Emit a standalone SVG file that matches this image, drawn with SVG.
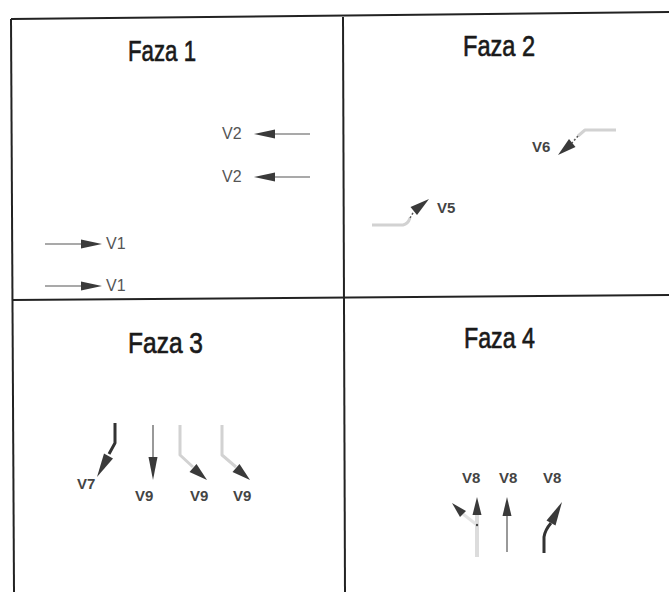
<svg xmlns="http://www.w3.org/2000/svg" width="669" height="592" viewBox="0 0 669 592">
<style>
.frame{stroke:#222;stroke-width:2;fill:none}
.title{font-family:"Liberation Sans",Arial,sans-serif;font-size:30px;fill:#1a1a1a;stroke:#1a1a1a;stroke-width:0.7}
.lbl{font-family:"Liberation Sans",Arial,sans-serif;font-size:16px;fill:#555}
.lblb{font-family:"Liberation Sans",Arial,sans-serif;font-size:15px;font-weight:bold;fill:#444}
.thin{stroke:#555;stroke-width:1.2;fill:none}
.thick{stroke:#333;stroke-width:3;fill:none;stroke-linejoin:round}
.light{stroke:#d2d2d2;stroke-width:3;fill:none;stroke-linejoin:round}
.head{fill:#3a3a3a}
</style>
<rect width="669" height="592" fill="#fff"/>
<g id="frame">
<line class="frame" x1="11" y1="19" x2="669" y2="12"/>
<line class="frame" x1="11" y1="19" x2="14" y2="592"/>
<line class="frame" x1="343" y1="17" x2="345" y2="592"/>
<line class="frame" x1="12" y1="300" x2="669" y2="295"/>
</g>
<g id="faza1">
<text class="title" x="128" y="61" textLength="68" lengthAdjust="spacingAndGlyphs">Faza 1</text>
<g id="v2a"><text class="lbl" x="222" y="139">V2</text></g>
<g id="v2b"><text class="lbl" x="222" y="182">V2</text></g>
<g id="v1a"><text class="lbl" x="106" y="249">V1</text></g>
<g id="v1b"><text class="lbl" x="106" y="291">V1</text></g>
</g>
<g id="faza2">
<text class="title" x="463" y="56" textLength="72" lengthAdjust="spacingAndGlyphs">Faza 2</text>
<g id="v6"><text class="lblb" x="532" y="152">V6</text></g>
<g id="v5"><text class="lblb" x="437" y="213">V5</text></g>
</g>
<g id="faza3">
<text class="title" x="128" y="353" textLength="75" lengthAdjust="spacingAndGlyphs">Faza 3</text>
<g id="v7"><text class="lblb" x="77" y="489">V7</text></g>
<g id="v9a"><text class="lblb" x="135" y="501">V9</text></g>
<g id="v9b"><text class="lblb" x="190" y="501">V9</text></g>
<g id="v9c"><text class="lblb" x="233" y="501">V9</text></g>
</g>
<g id="faza4">
<text class="title" x="464" y="348" textLength="71" lengthAdjust="spacingAndGlyphs">Faza 4</text>
<g id="v8a"><text class="lblb" x="462" y="483">V8</text></g>
<g id="v8b"><text class="lblb" x="499" y="483">V8</text></g>
<g id="v8c"><text class="lblb" x="543" y="483">V8</text></g>
</g>
<g id="connectors">
<line class="thin" x1="274" y1="134" x2="310" y2="134"/>
<polygon class="head" points="254,134 275,129.5 275,138.5"/>
<line class="thin" x1="274" y1="177" x2="310" y2="177"/>
<polygon class="head" points="254,177 275,172.5 275,181.5"/>
<line class="thin" x1="45" y1="244" x2="83" y2="244"/>
<polygon class="head" points="102,244 81,239.5 81,248.5"/>
<line class="thin" x1="45" y1="286" x2="83" y2="286"/>
<polygon class="head" points="102,286 81,281.5 81,290.5"/>
<polyline class="light" points="616,130 585,130 578,136"/>
<line stroke="#555" stroke-width="1.5" stroke-dasharray="2,2" x1="578" y1="136" x2="572" y2="143"/>
<polygon class="head" points="558,155 575.5,147 569,139"/>
<path class="light" d="M372,225 L403,225 Q408,224 410,218"/>
<line stroke="#555" stroke-width="1.5" stroke-dasharray="2,2" x1="410" y1="218" x2="414" y2="211"/>
<polygon class="head" points="429,199 417,215 410.5,207"/>
<polyline class="thick" points="115,423 115,443 109,454"/>
<polygon class="head" points="97,477 113,458.5 104,453.5"/>
<line class="thin" x1="153" y1="425" x2="153" y2="458"/>
<polygon class="head" points="153,480 148.5,457 157.5,457"/>
<polyline class="light" points="180,425 180,455 193,467"/>
<polygon class="head" points="207,480 189.5,472 196.5,464"/>
<polyline class="light" points="222,425 222,455 236,467"/>
<polygon class="head" points="250,480 232.5,472 239.5,464"/>
<line stroke="#dcdcdc" stroke-width="4" x1="477" y1="514" x2="477" y2="557"/>
<line stroke="#e4e4e4" stroke-width="3" x1="463" y1="514" x2="477" y2="525"/>
<polygon class="head" points="477,497 472.5,515 481.5,515"/>
<circle cx="477" cy="525" r="1.2" fill="#444"/>
<polygon class="head" points="452,503 466,511 460,517"/>
<line class="thin" x1="507" y1="515" x2="507" y2="552"/>
<polygon class="head" points="507,497 502.5,516 511.5,516"/>
<path class="thick" d="M544,553 L544,537 Q545,530 551,523"/>
<polygon class="head" points="562,502 555.5,525.5 546.5,520.5"/>
</g>
</svg>
